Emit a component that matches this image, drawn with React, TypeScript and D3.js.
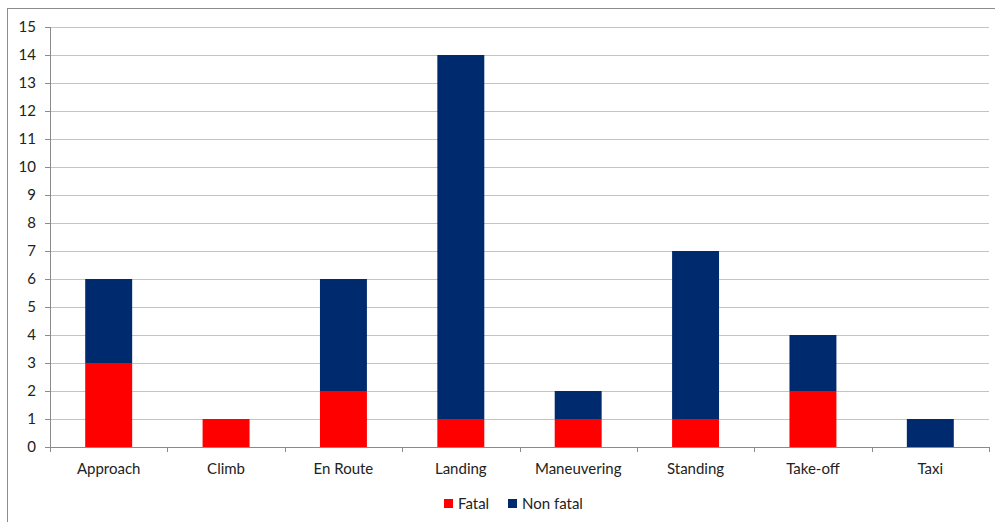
import React from 'react';
import * as d3 from 'd3';

const categories = ['Approach', 'Climb', 'En Route', 'Landing', 'Maneuvering', 'Standing', 'Take-off', 'Taxi'];
const fatal = [3, 1, 2, 1, 1, 1, 2, 0];
const nonFatal = [3, 0, 4, 13, 1, 6, 2, 1];
const seriesNames = ['Fatal', 'Non fatal'];
const seriesColors = ['#ff0000', '#002a6e'];
const yTicks = d3.range(0, 16);

const width = 995;
const height = 522;
const margin = { top: 27, right: 6, bottom: 75, left: 50 };
const font = 'Lato, "Open Sans", sans-serif';

const App = () => {
  const rows = categories.map((c, i) => ({ name: c, Fatal: fatal[i], 'Non fatal': nonFatal[i] }));
  const stacked = d3.stack<any>().keys(seriesNames)(rows);

  const x = d3.scaleBand()
    .domain(categories)
    .range([margin.left, width - margin.right])
    .paddingInner(0.6)
    .paddingOuter(0.3);
  const band = d3.scaleBand().domain(categories).range([margin.left, width - margin.right]);
  const y = d3.scaleLinear().domain([0, 15]).range([height - margin.bottom, margin.top]);

  const x0 = margin.left;
  const x1 = width - margin.right;
  const yBase = y(0);

  return (
    <svg width={width} height={height} style={{ position: 'absolute', left: 0, top: 0, background: '#fff' }} fontFamily={font}>
      <rect x={7.5} y={8.5} width={1000} height={530} fill="#fff" stroke="#8c8c8c" />
      {yTicks.map(t => (
        <g key={t}>
          {t > 0 && <line x1={x0} x2={x1} y1={Math.round(y(t)) + 0.5} y2={Math.round(y(t)) + 0.5} stroke="#c4c4c4" />}
          <line x1={x0 - 5} x2={x0} y1={Math.round(y(t)) + 0.5} y2={Math.round(y(t)) + 0.5} stroke="#8a8a8a" />
          <text x={x0 - 14} y={y(t)} dy="0.35em" textAnchor="end" fontSize={15} fill="#222">{t}</text>
        </g>
      ))}
      {stacked.map((s, si) => (
        <g key={s.key} fill={seriesColors[si]}>
          {s.map((d, i) => d[1] - d[0] > 0 ? (
            <rect key={i} x={x(categories[i])} width={x.bandwidth()} y={y(d[1])} height={y(d[0]) - y(d[1])} />
          ) : null)}
        </g>
      ))}
      <line x1={x0 + 0.5} x2={x0 + 0.5} y1={y(15)} y2={yBase + 5} stroke="#8a8a8a" />
      <line x1={x0} x2={x1} y1={yBase + 0.5} y2={yBase + 0.5} stroke="#8a8a8a" />
      {categories.map((c, i) => (
        <line key={c} x1={Math.round(band(c)! + band.bandwidth()) + 0.5} x2={Math.round(band(c)! + band.bandwidth()) + 0.5} y1={yBase} y2={yBase + 5} stroke="#8a8a8a" />
      ))}
      {categories.map(c => (
        <text key={c} x={band(c)! + band.bandwidth() / 2} y={yBase + 27} textAnchor="middle" fontSize={15} fill="#222">{c}</text>
      ))}
      <g transform="translate(444,499)">
        <rect x={0} y={0} width={9} height={9} fill={seriesColors[0]} />
        <text x={14} y={10} fontSize={15} fill="#222">{seriesNames[0]}</text>
        <rect x={64} y={0} width={9} height={9} fill={seriesColors[1]} />
        <text x={78} y={10} fontSize={15} fill="#222">{seriesNames[1]}</text>
      </g>
    </svg>
  );
};

export default App;
